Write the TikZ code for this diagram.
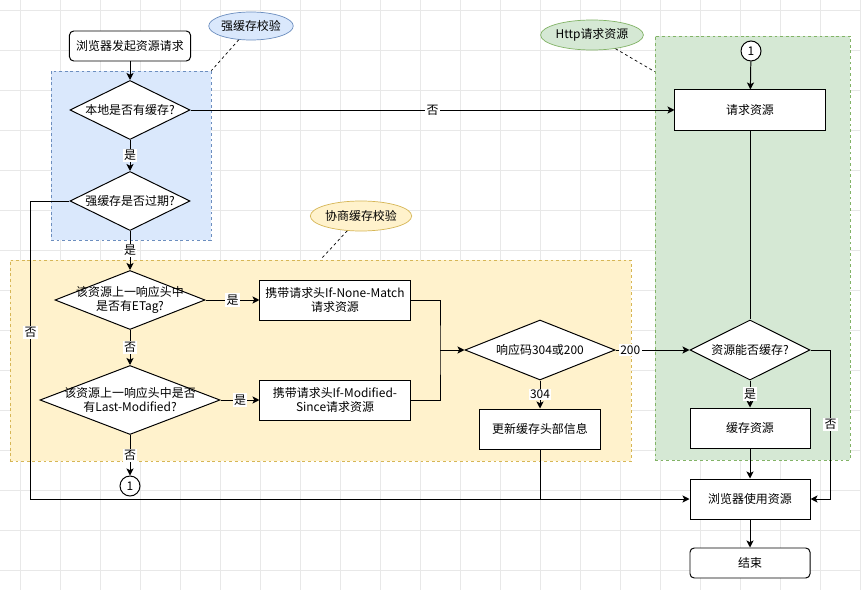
\documentclass[tikz,border=0pt]{standalone}
\usepackage{fontspec}
\setmainfont{Noto Sans CJK SC}
\usepackage{tikz}
\usetikzlibrary{arrows.meta,shapes.geometric,positioning}
\definecolor{gridGray}   {RGB}{232, 232, 232}
\definecolor{blueFill}   {RGB}{218, 232, 252}
\definecolor{blueLine}   {RGB}{108, 142, 191}
\definecolor{yellowFill} {RGB}{255, 242, 204}
\definecolor{yellowLine} {RGB}{214, 182,  86}
\definecolor{greenFill}  {RGB}{213, 232, 212}
\definecolor{greenLine}  {RGB}{130, 179, 102}

\begin{document}
\begin{tikzpicture}[x=0.025cm,y=-0.025cm,
    font=\fontsize{8.5}{10.5}\selectfont,
    flow/.style={draw,line width=0.7pt,-{Stealth[length=5pt,width=5pt,inset=1.2pt]}},
    wire/.style={draw,line width=0.7pt},
    proc/.style={draw,fill=white,line width=0.7pt,minimum width=#1,
                 minimum height=1cm,align=center,inner sep=1pt},
    proc/.default=3cm,
    term/.style={proc,rounded corners=3pt},
    decide/.style={diamond,draw,fill=white,line width=0.7pt,inner sep=0pt},
    dtext/.style={align=center,inner sep=0pt},
    conn/.style={circle,draw,fill=white,line width=0.7pt,minimum size=0.5cm,inner sep=0pt},
    grp/.style={draw,dashed,dash pattern=on 2pt off 2pt,line width=0.5pt,inner sep=0pt},
    tag/.style={ellipse,draw,line width=0.5pt,minimum width=2.025cm,
                minimum height=0.75cm,inner sep=0pt},
    lbl/.style={fill=white,inner sep=1pt},
    note/.style={draw,dashed,dash pattern=on 2pt off 2pt,line width=0.5pt}]
  \useasboundingbox (0,0) rectangle (861,590);
  \fill[white] (0,0) rectangle (861,590);
  % grade de fundo
  \foreach \x in {20,60,...,860}
    \draw[gridGray,line width=0.5pt] (\x,0) -- (\x,590);
  \foreach \y in {10,50,...,570}
    \draw[gridGray,line width=0.5pt] (0,\y) -- (861,\y);

  % grupos
  \node[grp,fill=blueFill,draw=blueLine,minimum width=4cm,
        minimum height=4.225cm] (qiang) at (131,155.5) {};
  \node[grp,fill=yellowFill,draw=yellowLine,minimum width=15.525cm,
        minimum height=5.025cm] (xieshang) at (320.5,360.5) {};
  \node[grp,fill=greenFill,draw=greenLine,minimum width=4.875cm,
        minimum height=10.6cm] (http) at (752.5,248) {};

  % etiquetas dos grupos
  \node[tag,fill=blueFill,draw=blueLine,minimum width=2cm,minimum height=0.7cm]
    (qiangTag) at (251,26) {强缓存校验};
  \node[tag,fill=yellowFill,draw=yellowLine] (xieshangTag) at (361,216) {协商缓存校验};
  \node[tag,fill=greenFill,draw=greenLine] (httpTag) at (592,35) {Http请求资源};
  \draw[note] (qiangTag) -- (qiang.north east);
  \draw[note] (xieshangTag) -- (xieshang.north);
  \draw[note] (httpTag) -- ([yshift=-0.9cm]http.north west);

  % strong cache
  \node[term,minimum width=3.025cm,minimum height=0.75cm] (start) at (130,46)
    {浏览器发起资源请求};
  \node[decide,minimum width=3cm,minimum height=1.475cm,
        label={[dtext]center:本地是否有缓存?}] (local) at (130,110) {};
  \node[decide,minimum width=3cm,minimum height=1.475cm,
        label={[dtext]center:强缓存是否过期?}] (expired) at (130,201) {};

  % negotiated cache
  \node[decide,minimum width=3.75cm,minimum height=1.475cm,
        label={[dtext]center:{该资源上一响应头中\\是否有ETag?}}] (etag) at (130,300) {};
  \node[decide,minimum width=4.5cm,minimum height=1.725cm,
        label={[dtext]center:{该资源上一响应头中是否\\有Last-Modified?}}] (lastmod) at (130,400) {};
  \node[proc=3.75cm] (inm) at (335,300) {携带请求头If-None-Match\\请求资源};
  \node[proc=3.75cm] (ims) at (335,400) {携带请求头If-Modified-\\Since请求资源};
  \node[conn] (c1) at (130,486) {1};
  \coordinate (join) at (440,350);
  \node[decide,minimum width=3.75cm,minimum height=1.5cm,
        label={[dtext]center:响应码304或200}] (code) at (540,350) {};
  \node[proc] (upd) at (540,429) {更新缓存头部信息};

  % http
  \node[conn] (c2) at (751,51) {1};
  \node[proc=3.75cm] (req) at (750,110) {请求资源};
  \node[decide,minimum width=3cm,minimum height=1.5cm,
        label={[dtext]center:资源能否缓存?}] (can) at (750,350) {};
  \node[proc] (store) at (750,428) {缓存资源};
  \node[proc] (use) at (750,499) {浏览器使用资源};
  \node[term,minimum height=0.75cm] (finish) at (750,563) {结束};

  % ligacoes
  \draw[flow] (start) -- (local);
  \draw[flow] (local) -- node[lbl]{否} (req);
  \draw[flow] (local) -- node[lbl]{是} (expired);
  \draw[flow] (expired.west) -- ++(-39,0) |- node[lbl,pos=0.22]{否} (use.west);
  \draw[flow] (expired) -- node[lbl]{是} (etag);
  \draw[flow] (etag) -- node[lbl]{是} (inm);
  \draw[flow] (etag) -- node[lbl]{否} (lastmod);
  \draw[flow] (lastmod) -- node[lbl]{是} (ims);
  \draw[flow] (lastmod) -- node[lbl]{否} (c1);
  \draw[wire] (inm.east) -| (join) |- (ims.east);
  \draw[flow] (join) -- (code.west);
  \draw[flow] (code) -- node[lbl,pos=0.2]{200} (can);
  \draw[flow] (code) -- node[lbl]{304} (upd);
  \draw[wire] (upd.south) -- (upd.south |- use.west);
  \draw[flow] (c2) -- (req);
  \draw[wire] (req) -- (can);
  \draw[flow] (can.east) -- ++(20,0) |- node[lbl,pos=0.25]{否} (use.east);
  \draw[flow] (can) -- node[lbl]{是} (store);
  \draw[flow] (store) -- (use);
  \draw[flow] (use) -- (finish);
\end{tikzpicture}
\end{document}
